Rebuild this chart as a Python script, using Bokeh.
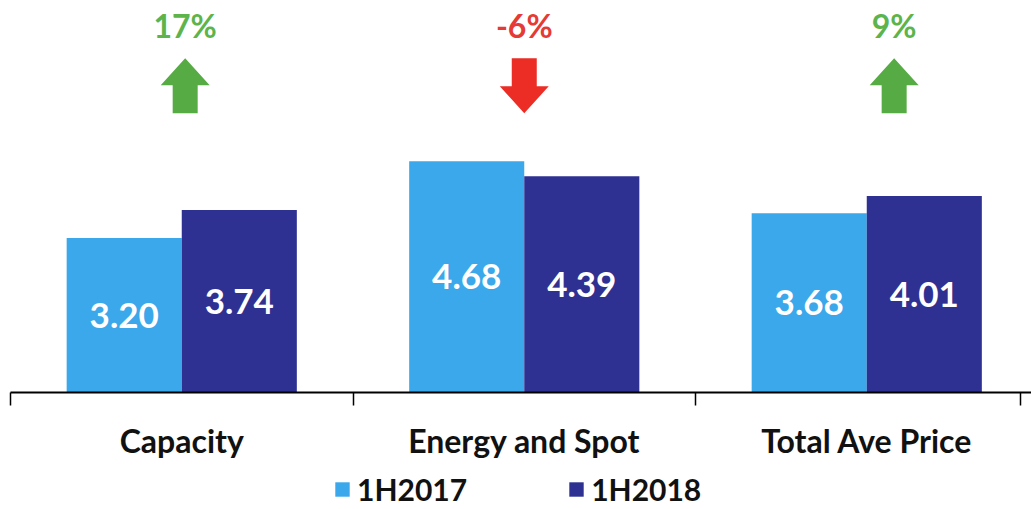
from bokeh.plotting import figure
from bokeh.layouts import column
from bokeh.models import Range1d, FixedTicker, Legend, LegendItem, ColumnDataSource
from bokeh.core.properties import value
from bokeh.embed import file_html
from bokeh.resources import INLINE

categories = ["Capacity", "Energy and Spot", "Total Ave Price"]
series_names = ["1H2017", "1H2018"]
values_2017 = [3.20, 4.68, 3.68]
values_2018 = [3.74, 4.39, 4.01]

LIGHT = "#3AA8EA"
DARK = "#2E3192"
GREEN_TXT = "#5DB44B"
GREEN_ARR = "#57AB45"
RED_TXT = "#E53A35"
RED_ARR = "#EC2D25"
FONT = "Lato"

Y0, Y1 = 0.23, 7.77
XMAX = 2.981

p = figure(frame_width=1021, frame_height=392, output_backend="svg", toolbar_location=None,
           x_range=Range1d(0, XMAX), y_range=Range1d(Y0, Y1),
           min_border_left=10, min_border_right=0, min_border_top=0, min_border_bottom=68)
p.outline_line_color = None
p.grid.visible = False
p.yaxis.visible = False
p.background_fill_color = None
p.border_fill_color = "white"

centers = [i + 0.5 for i in range(len(categories))]
bw = 0.336
x17 = [c - bw / 2 for c in centers]
x18 = [c + bw / 2 for c in centers]

src17 = ColumnDataSource(dict(x=x17, top=values_2017, lab=[f"{v:.2f}" for v in values_2017],
                              ym=[(Y0 + v) / 2 for v in values_2017]))
src18 = ColumnDataSource(dict(x=x18, top=values_2018, lab=[f"{v:.2f}" for v in values_2018],
                              ym=[(Y0 + v) / 2 for v in values_2018]))

r17 = p.vbar(x="x", top="top", bottom=Y0, width=bw, source=src17, fill_color=LIGHT, line_color=None)
r18 = p.vbar(x="x", top="top", bottom=Y0, width=bw, source=src18, fill_color=DARK, line_color=None)

for s in (src17, src18):
    p.text(x="x", y="ym", text="lab", source=s, text_color="white", text_font=value(FONT),
           text_font_size="35px", text_font_style="bold", text_align="center", text_baseline="middle")

# change annotations
pct = [round((b / a - 1) * 100) for a, b in zip(values_2017, values_2018)]
pct_labels = [f"{v}%" for v in pct]
pct_x = [0.51, 1.50, 2.58]
pct_y = 7.28
arr_top, arr_bot = 6.66, 5.60
head_hw, shaft_hw, head_len = 0.0715, 0.0365, 0.52

txt_colors = [GREEN_TXT if v >= 0 else RED_TXT for v in pct]
arr_colors = [GREEN_ARR if v >= 0 else RED_ARR for v in pct]
p.text(x=pct_x, y=[pct_y] * 3, text=pct_labels, text_color=txt_colors, text_font=value(FONT),
       text_font_size="32px", text_font_style="bold", text_align="center", text_baseline="middle")

xs, ys = [], []
for xc, v in zip(pct_x, pct):
    if v >= 0:
        hb = arr_top - head_len
        xs.append([xc, xc + head_hw, xc + shaft_hw, xc + shaft_hw, xc - shaft_hw, xc - shaft_hw, xc - head_hw])
        ys.append([arr_top, hb, hb, arr_bot, arr_bot, hb, hb])
    else:
        hb = arr_bot + head_len
        xs.append([xc, xc + head_hw, xc + shaft_hw, xc + shaft_hw, xc - shaft_hw, xc - shaft_hw, xc - head_hw])
        ys.append([arr_bot, hb, hb, arr_top, arr_top, hb, hb])
p.patches(xs=xs, ys=ys, fill_color=arr_colors, line_color=None)

# x axis
ax = p.xaxis[0]
ax.ticker = FixedTicker(ticks=centers, minor_ticks=[0, 1, 2, 2.95])
ax.major_label_overrides = {c: name for c, name in zip(centers, categories)}
ax.major_tick_out = 0
ax.major_tick_in = 0
ax.minor_tick_out = 13
ax.minor_tick_in = 0
ax.minor_tick_line_color = "black"
ax.minor_tick_line_width = 1.5
ax.axis_line_color = "black"
ax.axis_line_width = 2
ax.major_label_text_font = FONT
ax.major_label_text_font_style = "bold"
ax.major_label_text_font_size = "32px"
ax.major_label_text_color = "#111111"
ax.major_label_standoff = 15

# legend strip (swatch renderers sit outside the visible range; only their legend glyphs show)
lf = figure(width=1031, height=49, output_backend="svg", toolbar_location=None,
            x_range=Range1d(0, 1), y_range=Range1d(0, 1),
            min_border_left=0, min_border_right=0, min_border_top=0, min_border_bottom=0)
lf.outline_line_color = None
lf.axis.visible = False
lf.grid.visible = False
lf.border_fill_color = "white"
d17 = lf.vbar(x=[5], top=[5], bottom=[4], width=0.1, fill_color=LIGHT, line_color=None)
d18 = lf.vbar(x=[5], top=[5], bottom=[4], width=0.1, fill_color=DARK, line_color=None)

legend = Legend(items=[LegendItem(label=series_names[0], renderers=[d17]),
                       LegendItem(label=series_names[1], renderers=[d18])],
                orientation="horizontal", location=(323, 4))
legend.label_text_font = FONT
legend.label_text_font_style = "bold"
legend.label_text_font_size = "30px"
legend.label_text_color = "#111111"
legend.glyph_width = 18
legend.glyph_height = 18
legend.label_standoff = 6
legend.spacing = 100
legend.border_line_color = None
legend.background_fill_alpha = 0
legend.padding = 0
legend.margin = 0
lf.add_layout(legend, "center")

layout = column(p, lf, spacing=0)
open("out.html", "w").write(file_html(layout, INLINE))
